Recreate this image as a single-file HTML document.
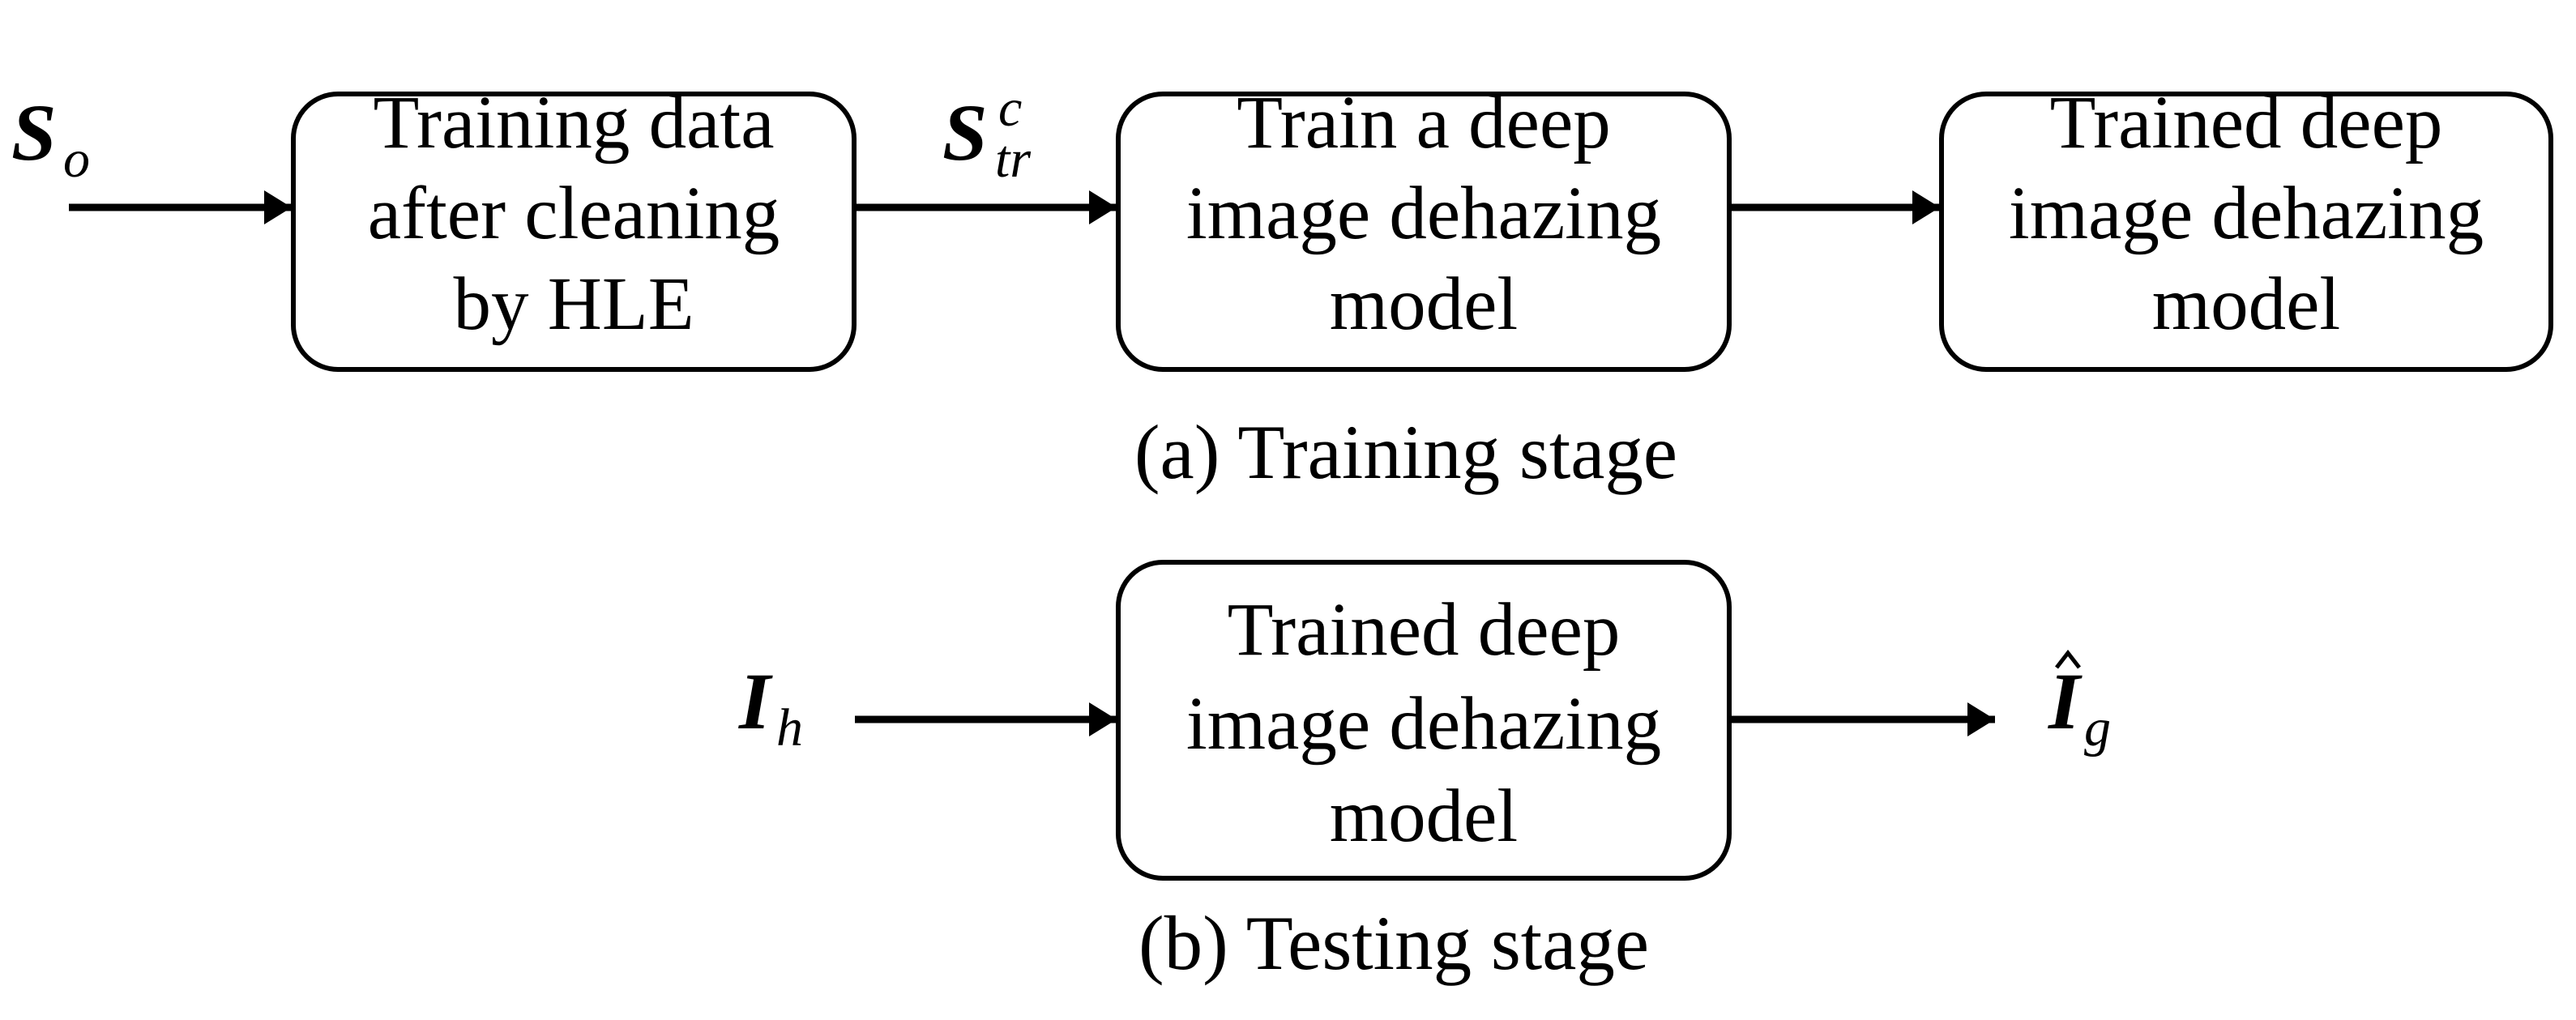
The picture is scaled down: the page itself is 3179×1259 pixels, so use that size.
<!DOCTYPE html>
<html><head><meta charset="utf-8"><style>
html,body{margin:0;padding:0;background:#fff;width:3179px;height:1259px;overflow:hidden}
svg text{font-family:"Liberation Serif",serif;fill:#000}
</style></head><body>
<svg width="3179" height="1259" viewBox="0 0 3179 1259" xmlns="http://www.w3.org/2000/svg">
<defs>
<marker id="ah" markerWidth="34" markerHeight="42" refX="34" refY="21" orient="auto" markerUnits="userSpaceOnUse">
<path d="M0,0 L34,21 L0,42 Z" fill="#000"/>
</marker>
</defs>
<g fill="none" stroke="#000" stroke-width="6">
<rect x="362" y="116" width="692" height="340" rx="55"/>
<rect x="1380" y="116" width="754" height="340" rx="55"/>
<rect x="2396" y="116" width="752" height="340" rx="55"/>
<rect x="1380" y="694" width="754" height="390" rx="55"/>
</g>
<g stroke="#000" stroke-width="9" marker-end="url(#ah)">
<line x1="85" y1="256" x2="360" y2="256"/>
<line x1="1057" y1="256" x2="1378" y2="256"/>
<line x1="2137" y1="256" x2="2394" y2="256"/>
<line x1="1055" y1="888" x2="1378" y2="888"/>
<line x1="2137" y1="888" x2="2462" y2="888"/>
</g>
<g font-size="93" text-anchor="middle">
<text x="708" y="182">Training data</text>
<text x="708" y="294">after cleaning</text>
<text x="708" y="406">by HLE</text>
<text x="1757" y="182">Train a deep</text>
<text x="1757" y="294">image dehazing</text>
<text x="1757" y="406">model</text>
<text x="2772" y="182">Trained deep</text>
<text x="2772" y="294">image dehazing</text>
<text x="2772" y="406">model</text>
<text x="1757" y="808">Trained deep</text>
<text x="1757" y="924">image dehazing</text>
<text x="1757" y="1038">model</text>
<text x="1735" y="590" font-size="95">(a) Training stage</text>
<text x="1720" y="1196" font-size="95">(b) Testing stage</text>
</g>
<g font-style="italic">
<text x="14" y="197" font-size="100" font-weight="bold">S</text>
<text x="78" y="218" font-size="66">o</text>
<text x="1163" y="197" font-size="100" font-weight="bold">S</text>
<text x="1228" y="218" font-size="66">tr</text>
<text x="1232" y="155" font-size="66">c</text>
<text x="912" y="899" font-size="100" font-weight="bold">I</text>
<text x="958" y="920" font-size="66">h</text>
<text x="2528" y="899" font-size="100" font-weight="bold">I</text>
<text x="2572" y="920" font-size="66">g</text>
</g>
<path d="M2538,824 L2552,806 L2566,824" fill="none" stroke="#000" stroke-width="5"/>
</svg>
</body></html>
